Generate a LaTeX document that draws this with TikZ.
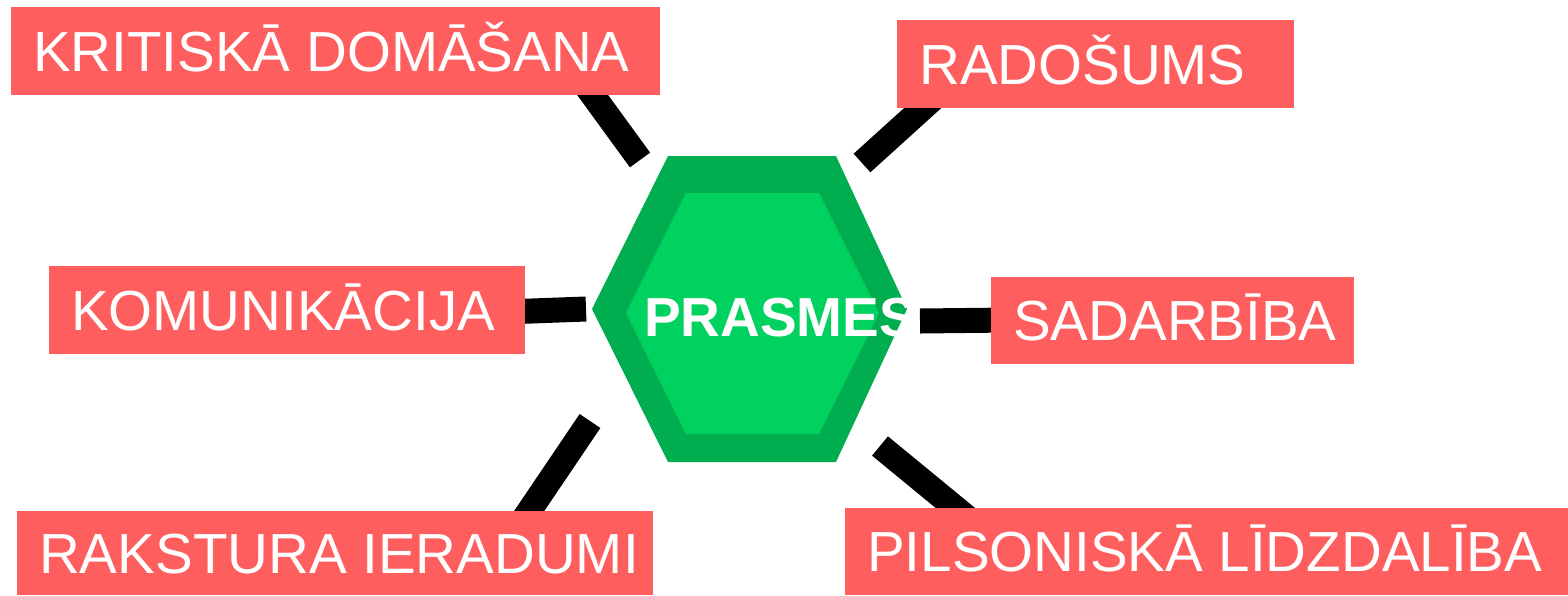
\documentclass[tikz,border=0pt]{standalone}
\usepackage{fontspec}
\setmainfont{Liberation Sans}
\definecolor{boxred}{RGB}{255,94,94}
\definecolor{hexout}{RGB}{0,174,79}
\definecolor{hexin}{RGB}{0,209,95}
\pgfdeclarelayer{bg}
\pgfsetlayers{bg,main}
\begin{document}
\begin{tikzpicture}[x=1pt,y=-1pt,
  box/.style={fill=boxred, text=white, inner xsep=22pt, inner ysep=0pt,
    minimum height=88pt, anchor=north west,
    font=\fontsize{56.5}{60}\selectfont, text height=40pt, text depth=0pt},
  conn/.style={line width=25pt, black},
  hexlabel/.style={text=white, inner sep=0pt, anchor=base west,
    font=\fontsize{55}{60}\selectfont\bfseries}]
\useasboundingbox (0,0) rectangle (1568,595);

% central hexagon
\fill[hexout] (668,156) -- (836,156) -- (907,309) -- (836,462) -- (668,462) -- (592,309) -- cycle;
\fill[hexin] (686,193) -- (819,193) -- (879,313) -- (819,434) -- (686,434) -- (626,313) -- cycle;
\node[hexlabel] (prasmes) at (644,336) {PRASMES};

% boxes
\node[box, minimum height=88pt] (kd) at (11,7) {\makebox[605pt][l]{KRITISKĀ DOMĀŠANA}};
\node[box, minimum height=88pt] (rad) at (897,20) {\makebox[353pt][l]{RADOŠUMS}};
\node[box, minimum height=88pt] (kom) at (49,266) {\makebox[432pt][l]{KOMUNIKĀCIJA}};
\node[box, minimum height=87pt] (sad) at (991,277) {\makebox[319pt][l]{SADARBĪBA}};
\node[box, minimum height=84pt] (rak) at (17,511) {\makebox[592pt][l]{RAKSTURA IERADUMI}};
\node[box, minimum height=87pt] (pil) at (845,508) {\makebox[700pt][l]{PILSONISKĀ LĪDZDALĪBA}};

% connector ends
\coordinate (h1) at (640,160); \coordinate (b1) at (581,79);
\coordinate (h2) at (862,163); \coordinate (b2) at (936,96);
\coordinate (h3) at (586,309); \coordinate (b3) at (505,312);
\coordinate (h4) at (920,321); \coordinate (b4) at (1010,320);
\coordinate (h5) at (590,421); \coordinate (b5) at (515,532);
\coordinate (h6) at (880,446); \coordinate (b6) at (970,520);

\begin{pgfonlayer}{bg}
\draw[conn] (h1) -- (b1);
\draw[conn] (h2) -- (b2);
\draw[conn] (h3) -- (b3);
\draw[conn] (h4) -- (b4);
\draw[conn] (h5) -- (b5);
\draw[conn] (h6) -- (b6);
\end{pgfonlayer}
\end{tikzpicture}
\end{document}
